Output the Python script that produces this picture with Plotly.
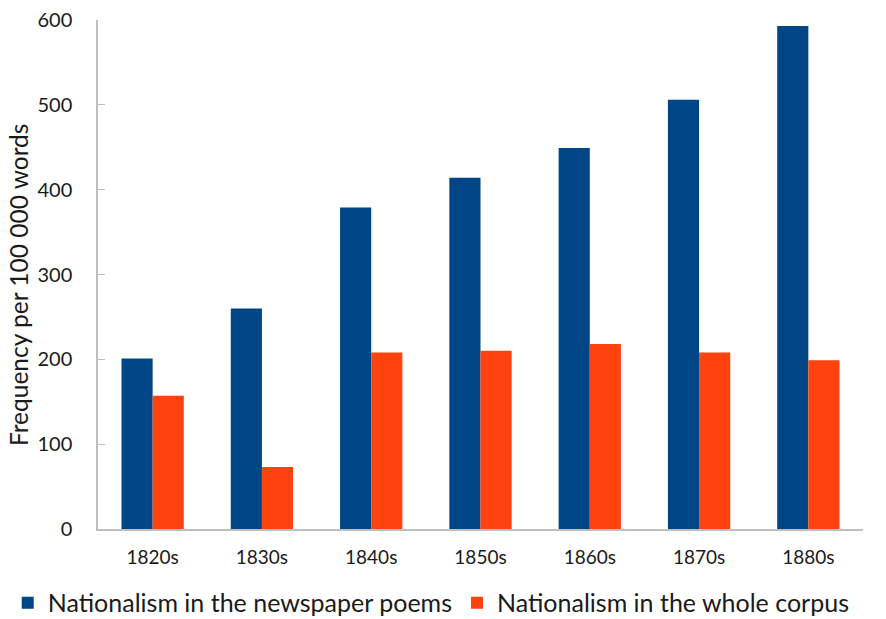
import plotly.graph_objects as go

decades = ["1820s", "1830s", "1840s", "1850s", "1860s", "1870s", "1880s"]
newspaper_poems = [201, 260, 379, 414, 449, 506, 593]
whole_corpus = [157, 73, 208, 210, 218, 208, 199]
y_ticks = [0, 100, 200, 300, 400, 500, 600]
y_title = "Frequency per 100 000 words"

FONT = "Lato"
TXT = "#1a1a1a"

fig = go.Figure()
fig.add_trace(go.Bar(x=decades, y=newspaper_poems, name="Nationalism in the newspaper poems",
                     marker=dict(color="#004586", line=dict(width=0))))
fig.add_trace(go.Bar(x=decades, y=whole_corpus, name="Nationalism in the whole corpus",
                     marker=dict(color="#ff420e", line=dict(width=0))))

fig.update_layout(
    width=886, height=619,
    margin=dict(l=98, r=23, t=20, b=90, autoexpand=False),
    paper_bgcolor="white", plot_bgcolor="white",
    barmode="group", bargap=0.43, bargroupgap=0,
    font=dict(family=FONT, color=TXT),
    showlegend=True,
    legend=dict(orientation="h", xref="paper", yref="paper",
                x=-0.118, xanchor="left", y=-0.1, yanchor="top",
                font=dict(size=25, family=FONT, color=TXT),
                itemwidth=30, tracegroupgap=0, borderwidth=0),
    xaxis=dict(showline=True, linecolor="#bfbfbf", linewidth=1.5, automargin=False,
               ticks="", tickfont=dict(size=19, color=TXT),
               ticklabelstandoff=10, showgrid=False),
    yaxis=dict(range=[0, 600], tickvals=y_ticks, showline=True, linecolor="#bfbfbf",
               linewidth=1.5, ticks="inside", ticklen=7, tickcolor="#bfbfbf",
               tickfont=dict(size=20, color=TXT), showgrid=False, zeroline=False,
               ticklabelstandoff=20, automargin=False),
    annotations=[dict(text=y_title, textangle=-90, xref="paper", yref="paper",
                      x=-0.104, y=0.48, xanchor="center", yanchor="middle",
                      showarrow=False, font=dict(size=24.5, color=TXT))],
)

fig.write_html("out.html")
